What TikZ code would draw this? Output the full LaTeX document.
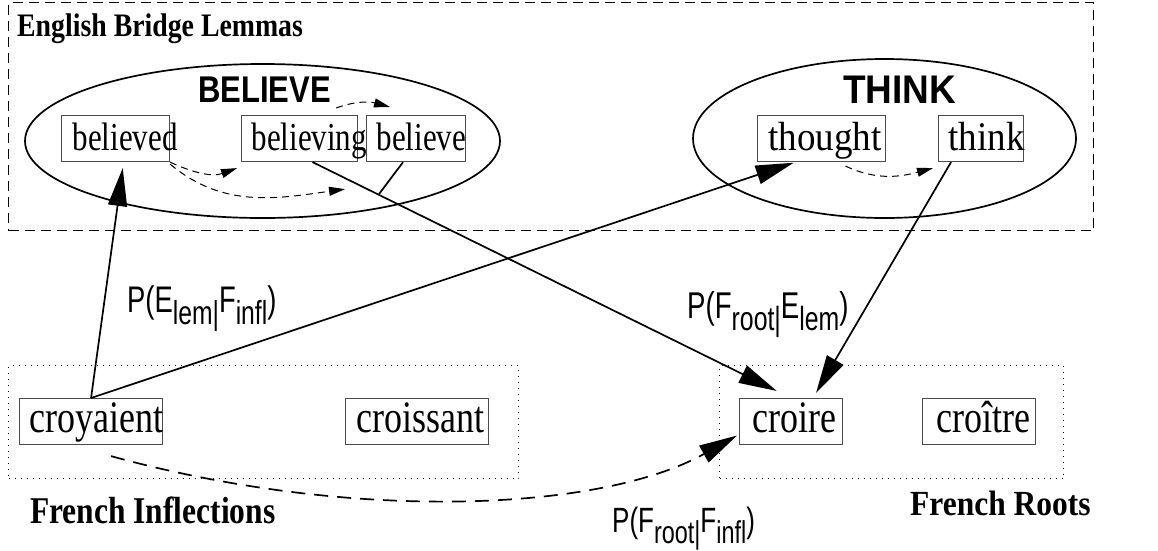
\documentclass[tikz,border=0pt]{standalone}
\usepackage{fontspec}
\setmainfont{Liberation Serif}
\setsansfont{Liberation Sans}
\usetikzlibrary{arrows.meta,shapes.geometric,calc}
\newcommand\fsz[1]{\fontsize{#1}{#1}\selectfont}
\newcommand\vsc[2]{\scalebox{1}[#1]{#2}}
\newcommand\sbs[1]{\raisebox{-0.33em}{\scalebox{0.9}{#1}}}
\newcommand\wbx[4]{\makebox[#1][l]{\hspace*{#2}\vsc{#3}{#4}}}
\begin{document}
\begin{tikzpicture}[x=1pt,y=-1pt,
  wbox/.style={draw=black!70, line width=1.1pt, anchor=north west, inner sep=0pt,
    minimum height=46pt, text height=24pt, text depth=0pt},
  fbox/.style={wbox, text height=22pt},
  grp/.style={draw, line width=1.7pt, ellipse, inner sep=0pt},
  area/.style={draw, line width=1pt, anchor=north west, inner sep=0pt},
  txt/.style={inner sep=0pt, anchor=base west},
  big/.style={line width=1.7pt, -{Triangle[length=38pt,width=19pt]}},
  small/.style={line width=1pt, dash pattern=on 7pt off 5pt, -{Triangle[length=16pt,width=9pt]}}
]
\useasboundingbox (0,0) rectangle (1158,550);

% areas
\node[area, dash pattern=on 10pt off 6pt, minimum width=1085pt, minimum height=228pt] (eng) at (8,2) {};
\node[area, dash pattern=on 1pt off 5pt, minimum width=510pt, minimum height=113pt] (infl) at (8,365) {};
\node[area, dash pattern=on 1pt off 5pt, minimum width=344pt, minimum height=113pt] (roots) at (719,365) {};

% group ellipses
\node[grp, minimum width=475pt, minimum height=154pt] (gbelieve) at (262.5,141) {};
\node[grp, minimum width=383pt, minimum height=159pt] (gthink) at (884.5,138.5) {};

% titles
\node[txt] (teng) at (17,36) {\vsc{1.18}{\fsz{27.8}\bfseries English Bridge Lemmas}};
\node[txt] (tinfl) at (30,523) {\vsc{1.2}{\fsz{31.5}\bfseries French Inflections}};
\node[txt] (troots) at (910,515) {\vsc{1.12}{\fsz{31.5}\bfseries French Roots}};
\node[txt] (tbelieve) at (198,102) {\vsc{1.2}{\fsz{31}\sffamily\bfseries BELIEVE}};
\node[txt] (tthink) at (843,103) {\vsc{1.08}{\fsz{37}\sffamily\bfseries THINK}};

% word boxes
\node[wbox, font=\fsz{31}] (believed) at (61,115) {\wbx{108pt}{11pt}{1.28}{believed}};
\node[wbox, font=\fsz{31}] (believing) at (241,115) {\wbx{116pt}{10pt}{1.28}{believing}};
\node[wbox, font=\fsz{31}] (believe) at (366,115) {\wbx{99pt}{10pt}{1.28}{believe}};
\node[wbox, font=\fsz{37}] (thought) at (757,115) {\wbx{128pt}{11pt}{1.1}{thought}};
\node[wbox, font=\fsz{37}] (think) at (938,115) {\wbx{85pt}{10pt}{1.1}{think}};
\node[fbox, font=\fsz{36}] (croyaient) at (19,398) {\wbx{143pt}{10pt}{1.25}{croyaient}};
\node[fbox, font=\fsz{36}] (croissant) at (345,398) {\wbx{143pt}{11pt}{1.25}{croissant}};
\node[fbox, font=\fsz{36}] (croire) at (739,398) {\wbx{103pt}{13pt}{1.25}{croire}};
\node[fbox, font=\fsz{36}] (croitre) at (922,398) {\wbx{113pt}{14pt}{1.25}{croître}};

% main connectors
\draw[big, shorten >=6pt] (croyaient.north) -- ([xshift=8pt]believed.south);
\draw[big, shorten >=2pt] (croyaient.north) -- ([xshift=-26pt]thought.south);
\coordinate (bs) at ([xshift=13pt]believing.south);
\draw[big, shorten >=16pt] (bs) -- (croire.north);
\coordinate (j) at ($(bs)!0.138!(croire.north)$);
\draw[line width=1.7pt] ([xshift=-13pt]believe.south) -- (j);
\draw[big, shorten >=6pt] ([xshift=-30pt]think.south) -- ([xshift=22pt]croire.north);
\draw[big, dash pattern=on 14pt off 9pt] ([xshift=20pt,yshift=-11pt]croyaient.south)
  .. controls (350,522) and (600,512) .. ([xshift=-2pt,yshift=-14pt]croire.west);

% small dashed connectors
\draw[small] (believed.south east) to[out=-25,in=200] ([xshift=-4pt,yshift=-6pt]believing.south west);
\draw[small] ([yshift=-2pt]believed.south east) to[out=-40,in=188] ([xshift=-21pt,yshift=-27pt]believe.south west);
\draw[small] ([xshift=-22pt,yshift=7pt]believing.north east) to[out=20,in=165] ([xshift=24pt,yshift=8pt]believe.north west);
\draw[small] ([xshift=24pt,yshift=-4pt]thought.south) to[out=-25,in=195] ([xshift=-5pt,yshift=-6pt]think.south west);

% labels
\node[txt] (l1) at (127,312) {\vsc{1.35}{\fsz{27.4}\sffamily P(E\sbs{lem|}F\sbs{infl})}};
\node[txt] (l2) at (687,318) {\vsc{1.35}{\fsz{27.6}\sffamily P(F\sbs{root|}E\sbs{lem})}};
\node[txt] (l3) at (612,532) {\vsc{1.35}{\fsz{26}\sffamily P(F\sbs{root|}F\sbs{infl})}};
\end{tikzpicture}
\end{document}
